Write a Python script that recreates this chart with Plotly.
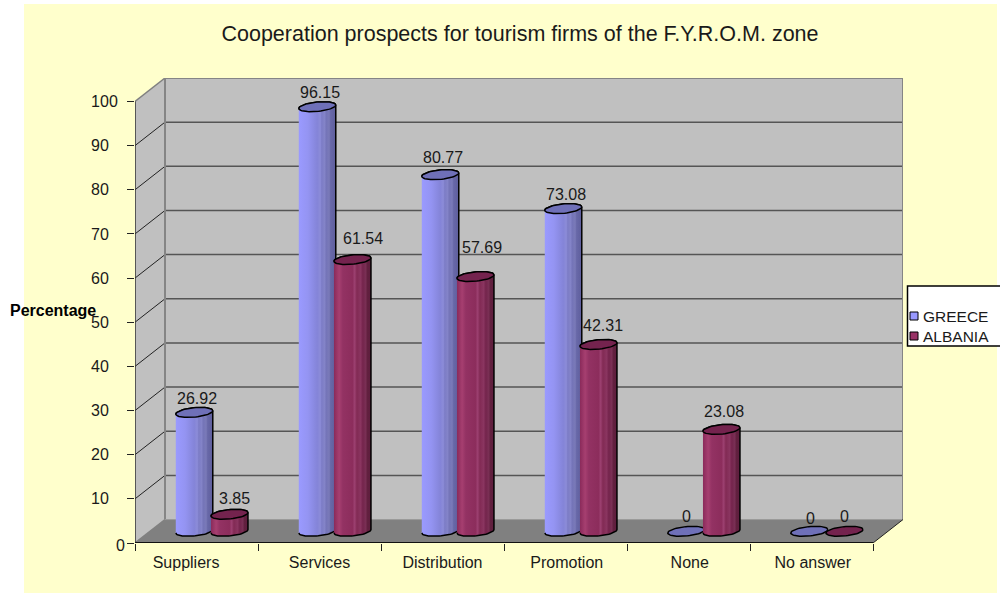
"""Cooperation prospects for tourism firms of the F.Y.R.O.M. zone - fake 3D cylinder chart."""
import numpy as np
import plotly.graph_objects as go

CATEGORIES = ["Suppliers", "Services", "Distribution", "Promotion", "None", "No answer"]
GREECE = [26.92, 96.15, 80.77, 73.08, 0, 0]
ALBANIA = [3.85, 61.54, 57.69, 42.31, 23.08, 0]
Y_TICKS = [0, 10, 20, 30, 40, 50, 60, 70, 80, 90, 100]

# pixel scale of the chart, everything below is in axis units
PX_X = 123.0
PX_Y = 4.423
DX = 30 / PX_X  # depth of the box
DY = 23.5 / PX_Y
BAR_A = 18.5 / PX_X
BAR_B = 4.7 / PX_Y
BAR_TILT = 1.7 / PX_Y
FONT = "Liberation Sans, Arial, sans-serif"
TEXT = "#1a1a1a"

BLUE_SCALE = [[0, "#9a9aff"], [0.25, "#9494f2"], [0.5, "#8484d8"], [0.58, "#8c8cd8"], [0.62, "#7c7cc6"],
              [0.7, "#8484c8"], [0.74, "#7474b8"], [0.82, "#7a7ab8"], [0.86, "#6868a8"], [1, "#5e5e9c"]]
RED_SCALE = [[0, "#8a2a5a"], [0.14, "#a63f70"], [0.24, "#933263"], [0.5, "#8c2d5c"], [0.56, "#9c4070"],
             [0.62, "#822a54"], [0.72, "#8a3560"], [0.78, "#74244c"], [0.86, "#7a3055"], [0.9, "#62203f"],
             [1, "#5e1e3e"]]
BLUE_CAP = "#6f70b8"
RED_CAP = "#74234e"

# small nudges the original renderer gave its labels, in px
LABEL_SHIFT_G = [(3, 14), (3, 14), (3, 17), (3, 14), (0, 15), (1, 13)]
LABEL_SHIFT_A = [(5, 16), (11, 21), (7, 29), (5, 19), (3, 18), (0, 15)]
TICK_NUDGE = [-0.085, 0, 0, 0.01, 0.01, 0.01]

fig = go.Figure()


def poly(xs, ys, fill=None, line=None, width=1.0):
    fig.add_trace(go.Scatter(
        x=xs, y=ys, mode="lines", fill="toself" if fill else "none", fillcolor=fill,
        line=dict(color=line or "rgba(0,0,0,0)", width=width),
        showlegend=False, hoverinfo="skip", cliponaxis=False))


def ellipse(cx, cy, t):
    return cx + BAR_A * np.cos(t), cy + BAR_B * np.sin(t) + BAR_TILT * np.cos(t)


def cylinder(front_x, value, scale, cap):
    cx = front_x + DX / 2
    base = DY / 2
    top = base + value
    if value > 0:
        bx, by = ellipse(cx, base, np.linspace(np.pi, 2 * np.pi, 30))
        tx, ty = ellipse(cx, top, np.linspace(0, np.pi, 30))
        fig.add_trace(go.Scatter(
            x=np.r_[bx, tx], y=np.r_[by, ty], mode="lines", fill="toself",
            fillgradient=dict(type="horizontal", colorscale=scale,
                              start=cx - BAR_A, stop=cx + BAR_A),
            line=dict(color="black", width=1.5),
            showlegend=False, hoverinfo="skip", cliponaxis=False))
    ex, ey = ellipse(cx, top, np.linspace(0, 2 * np.pi, 60))
    poly(ex, ey, fill=cap, line="black", width=1.5)
    return cx, top


n = len(CATEGORIES)
top_y = Y_TICKS[-1]

# box walls and floor
poly([DX, n + DX, n + DX, DX, DX], [DY, DY, top_y + DY, top_y + DY, DY], fill="#c0c0c0")
poly([0, DX, DX, 0, 0], [0, DY, top_y + DY, top_y, 0], fill="#c0c0c0")
poly([0, n, n + DX, DX, 0], [0, 0, DY, DY, 0], fill="#808080")

for v in Y_TICKS[1:-1]:
    poly([DX, n + DX], [v + DY, v + DY], line="#555555", width=1.5)
    poly([0, DX], [v, v + DY], line="#222222", width=1)
poly([0, DX], [top_y, top_y + DY], line="#808080", width=1.5)
poly([0, DX], [0, DY], line="#808080", width=1.5)
poly([DX, DX, n + DX, n + DX], [DY, top_y + DY, top_y + DY, DY], line="#858585", width=2)
poly([DX, n + DX], [DY, DY], line="#999999", width=1)
poly([n, n + DX], [0, DY], line="#222222", width=1)
poly([0, 0], [0, top_y], line="#333333", width=1.5)
poly([0, n], [0, 0], line="#111111", width=2)

# cylinders, with the value labels on top of them
for i in range(n):
    for value, scale, cap, offset, shift in (
        (GREECE[i], BLUE_SCALE, BLUE_CAP, 0.36, LABEL_SHIFT_G[i]),
        (ALBANIA[i], RED_SCALE, RED_CAP, 0.646, LABEL_SHIFT_A[i]),
    ):
        cx, top = cylinder(i + offset, value, scale, cap)
        fig.add_annotation(x=cx, y=top, text=str(value), showarrow=False,
                           xshift=shift[0], yshift=shift[1],
                           font=dict(family=FONT, size=16, color=TEXT))

fig.add_annotation(xref="paper", yref="paper", x=8 / 1000, y=1 - 310 / 593, xanchor="left",
                   text="<b>Percentage</b>", showarrow=False,
                   font=dict(family=FONT, size=16, color="black"))
# the renderer set the zero label right next to its tick
fig.add_annotation(xref="paper", x=127 / 1000, y=0, yshift=-2, xanchor="right", text="0", showarrow=False,
                   font=dict(family=FONT, size=16, color=TEXT))

# hand drawn legend, the box runs off the right edge of the picture
legend_shapes = [dict(type="rect", xref="paper", yref="paper", x0=907.5 / 1000, x1=1.01,
                      y0=1 - 346 / 593, y1=1 - 286 / 593, fillcolor="white",
                      line=dict(color="black", width=1.5))]
for name, colour, py in (("GREECE", "#9999ff", 316), ("ALBANIA", "#993366", 336)):
    legend_shapes.append(dict(type="rect", xref="paper", yref="paper",
                              x0=910 / 1000, x1=918 / 1000,
                              y0=1 - (py + 4) / 593, y1=1 - (py - 4) / 593,
                              fillcolor=colour, line=dict(color="black", width=1)))
    fig.add_annotation(xref="paper", yref="paper", x=921 / 1000, y=1 - py / 593, xanchor="left",
                       text=name, showarrow=False, font=dict(family=FONT, size=15.5, color=TEXT))

paper_bg = dict(type="rect", xref="paper", yref="paper", x0=24 / 1000, x1=997 / 1000, y0=0, y1=1 - 4 / 593,
                fillcolor="#ffffcc", line=dict(width=0), layer="below")

fig.update_xaxes(
    domain=[135 / 1000, 903 / 1000], range=[0, n + DX], showgrid=False, zeroline=False,
    tickmode="array", tickvals=[i + 0.5 + TICK_NUDGE[i] for i in range(n)], ticktext=CATEGORIES,
    ticks="", ticklabelstandoff=8, tickfont=dict(family=FONT, size=16, color=TEXT),
    minor=dict(tickmode="array", tickvals=list(range(n + 1)), ticks="outside", ticklen=7,
               tickcolor="#222222", tickwidth=1, showgrid=False),
)
# two trailing blanks are as wide as a digit, so the labels line up on the left
fig.update_yaxes(
    domain=[1 - 543 / 593, 1 - 78 / 593], range=[0, top_y + DY], showgrid=False, zeroline=False,
    tickmode="array", tickvals=Y_TICKS,
    ticktext=["" if v == 0 else str(v) if v == 100 else f"{v}\u00a0\u00a0" for v in Y_TICKS],
    ticks="outside", ticklen=7, tickcolor="#222222", tickwidth=1, ticklabelstandoff=6,
    tickfont=dict(family=FONT, size=16, color=TEXT),
)
fig.update_layout(
    width=1000, height=593, margin=dict(l=0, r=0, t=0, b=0, autoexpand=False),
    paper_bgcolor="white", plot_bgcolor="rgba(0,0,0,0)", showlegend=False,
    shapes=[paper_bg] + legend_shapes,
    title=dict(text="Cooperation prospects for tourism firms of the F.Y.R.O.M. zone",
               x=520 / 1000, y=1 - 33 / 593, xanchor="center", yanchor="middle",
               font=dict(family=FONT, size=21.5, color=TEXT)),
)
fig.write_html("out.html", config=dict(displayModeBar=False),
               post_script="document.body.style.margin='0';")
